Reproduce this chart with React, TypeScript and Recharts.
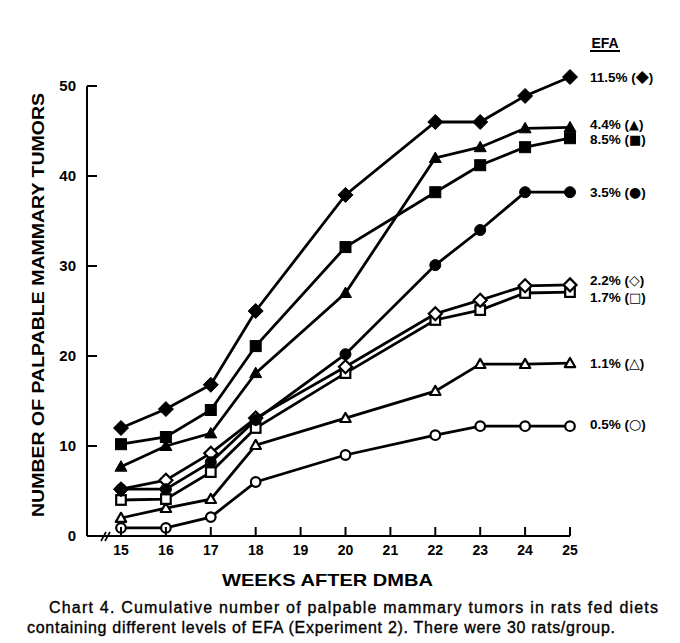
import React from 'react';
import { LineChart, Line, XAxis, YAxis, ReferenceLine, LabelList, Customized } from 'recharts';

const weeks = [15, 16, 17, 18, 20, 22, 23, 24, 25];
const efa115 = [12, 14.1, 16.8, 25, 37.9, 46, 46, 48.9, 51];
const efa44 = [7.7, 10, 11.4, 18.1, 27, 42, 43.2, 45.3, 45.4];
const efa85 = [10.2, 11, 14, 21.1, 32.1, 38.2, 41.2, 43.2, 44.2];
const efa35 = [5.2, 5.2, 8.2, 12.9, 20.2, 30.1, 34, 38.2, 38.2];
const efa22 = [5.2, 6.2, 9.2, 13.1, 18.8, 24.7, 26.2, 27.8, 27.9];
const efa17 = [4, 4.1, 7.1, 12, 18.1, 24, 25.1, 27, 27.1];
const efa11 = [2, 3.1, 4.1, 10.1, 13.1, 16.1, 19.1, 19.1, 19.2];
const efa05 = [0.9, 0.9, 2.1, 6, 9, 11.2, 12.2, 12.2, 12.2];

const xTicks = [15, 16, 17, 18, 19, 20, 21, 22, 23, 24, 25];
const yTicks = [0, 10, 20, 30, 40, 50];

const seriesDefs = [
  { key: 'e05', values: efa05, pct: '0.5%', sym: '\u25CB', shape: 'circle', filled: false, dy: -2, symSize: 14 },
  { key: 'e11', values: efa11, pct: '1.1%', sym: '\u25B3', shape: 'triangle', filled: false, dy: 0, symSize: 14 },
  { key: 'e17', values: efa17, pct: '1.7%', sym: '\u25A1', shape: 'square', filled: false, dy: 5, symSize: 13 },
  { key: 'e22', values: efa22, pct: '2.2%', sym: '\u25C7', shape: 'diamond', filled: false, dy: -5, symSize: 14 },
  { key: 'e35', values: efa35, pct: '3.5%', sym: '\u25CF', shape: 'circle', filled: true, dy: 0, symSize: 14 },
  { key: 'e85', values: efa85, pct: '8.5%', sym: '\u25A0', shape: 'square', filled: true, dy: 1, symSize: 13 },
  { key: 'e44', values: efa44, pct: '4.4%', sym: '\u25B2', shape: 'triangle', filled: true, dy: -3, symSize: 13 },
  { key: 'e115', values: efa115, pct: '11.5%', sym: '\u25C6', shape: 'diamond', filled: true, dy: 0, symSize: 17 },
];

const data = weeks.map((w, i) => {
  const row: any = { week: w };
  seriesDefs.forEach((s) => {
    row[s.key] = s.values[i];
    row[s.key + '_lbl'] = i === weeks.length - 1 ? s.pct + '|' + s.sym : null;
  });
  return row;
});

const FONT = '"Liberation Sans", Arial, "DejaVu Sans", sans-serif';

function makeDot(shape: string, filled: boolean) {
  return (props: any) => {
    const { cx, cy, index } = props;
    if (cx == null || cy == null) return <g key={`d-${index}`} />;
    const fill = filled ? '#000' : '#fff';
    const sw = filled ? 1 : 2.2;
    if (shape === 'circle') {
      return <circle key={`d-${index}`} cx={cx} cy={cy} r={filled ? 5.5 : 4.8} fill={fill} stroke="#000" strokeWidth={sw} />;
    }
    if (shape === 'square') {
      const h = filled ? 5.5 : 4.8;
      return <rect key={`d-${index}`} x={cx - h} y={cy - h} width={2 * h} height={2 * h} fill={fill} stroke="#000" strokeWidth={sw} />;
    }
    if (shape === 'triangle') {
      const h = filled ? 6 : 5.2;
      return (
        <polygon
          key={`d-${index}`}
          points={`${cx},${cy - h} ${cx + h},${cy + h * 0.75} ${cx - h},${cy + h * 0.75}`}
          fill={fill}
          stroke="#000"
          strokeWidth={sw}
          strokeLinejoin="round"
        />
      );
    }
    const h = filled ? 7.5 : 6.5;
    return (
      <polygon
        key={`d-${index}`}
        points={`${cx},${cy - h} ${cx + h},${cy} ${cx},${cy + h} ${cx - h},${cy}`}
        fill={fill}
        stroke="#000"
        strokeWidth={sw}
      />
    );
  };
}

function makeLabel(dy: number, symSize: number) {
  return (p: any) => {
    if (!p.value) return null;
    const x = p.viewBox?.x ?? p.x;
    const y = p.viewBox?.y ?? p.y;
    const [pct, sym] = String(p.value).split('|');
    return (
      <text x={x + 20} y={y + dy} dy="0.36em" fontFamily={FONT} fontWeight="bold" fontSize={13.5} fill="#000">
        {pct + ' ('}
        <tspan fontFamily='"DejaVu Sans", sans-serif' fontSize={symSize}>{sym}</tspan>
        {')'}
      </text>
    );
  };
}

const YTick = (props: any) => {
  const { x, y, payload } = props;
  return (
    <g>
      <line x1={x} y1={y} x2={x + 10} y2={y} stroke="#000" strokeWidth={2} />
      <text x={x - 11} y={y} dy="0.36em" textAnchor="end" fontFamily={FONT} fontWeight="bold" fontSize={15} fill="#000">
        {payload.value}
      </text>
    </g>
  );
};

const XTick = (props: any) => {
  const { x, y, payload } = props;
  return (
    <g>
      <line x1={x} y1={y} x2={x} y2={y - 9} stroke="#000" strokeWidth={2} />
      <text x={x} y={y + 14} dy="0.36em" textAnchor="middle" fontFamily={FONT} fontWeight="bold" fontSize={14} fill="#000">
        {payload.value}
      </text>
    </g>
  );
};

const Decor = () => (
  <g>
    <line x1={101} y1={541} x2={106} y2={532} stroke="#000" strokeWidth={1.6} />
    <line x1={105} y1={541} x2={110} y2={532} stroke="#000" strokeWidth={1.6} />
    <text x={605} y={43} dy="0.36em" textAnchor="middle" fontFamily={FONT} fontWeight="bold" fontSize={14} fill="#000">
      EFA
    </text>
    <line x1={590} y1={51} x2={620} y2={51} stroke="#000" strokeWidth={2} />
    <text
      transform="translate(38,305) rotate(-90)"
      x={0}
      y={0}
      dy="0.36em"
      textAnchor="middle"
      fontFamily={FONT}
      fontWeight="bold"
      fontSize={16}
      textLength={424}
      lengthAdjust="spacingAndGlyphs"
      fill="#000"
    >
      NUMBER OF PALPABLE MAMMARY TUMORS
    </text>
    <text x={222} y={580} dy="0.36em" fontFamily={FONT} fontWeight="bold" fontSize={17} textLength={211} lengthAdjust="spacingAndGlyphs" fill="#000">
      WEEKS AFTER DMBA
    </text>
    <text x={49} y={607} dy="0.36em" fontFamily={FONT} fontSize={16} textLength={609} lengthAdjust="spacing" fill="#000" stroke="#000" strokeWidth={0.35}>
      Chart 4. Cumulative number of palpable mammary tumors in rats fed diets
    </text>
    <text x={27} y={627} dy="0.36em" fontFamily={FONT} fontSize={16} textLength={588} lengthAdjust="spacing" fill="#000" stroke="#000" strokeWidth={0.35}>
      containing different levels of EFA (Experiment 2). There were 30 rats/group.
    </text>
  </g>
);

export default function App() {
  return (
    <div style={{ position: 'absolute', left: 0, top: 0, width: 680, height: 643, background: '#fff' }}>
      <LineChart width={680} height={643} data={data} margin={{ top: 68, right: 110, bottom: 77, left: 47 }}>
        <XAxis
          dataKey="week"
          type="number"
          domain={[14.243, 25]}
          ticks={xTicks}
          height={30}
          axisLine={{ stroke: '#000', strokeWidth: 2 }}
          tickLine={false}
          tickSize={0}
          tickMargin={0}
          tick={<XTick />}
          interval={0}
        />
        <YAxis
          type="number"
          domain={[0, 52]}
          ticks={yTicks}
          width={40}
          axisLine={false}
          tickLine={false}
          tickSize={0}
          tickMargin={0}
          tick={<YTick />}
          interval={0}
        />
        <ReferenceLine
          segment={[
            { x: 14.243, y: 0 },
            { x: 14.243, y: 50 },
          ]}
          stroke="#000"
          strokeWidth={2}
        />
        {seriesDefs.map((s) => (
          <Line
            key={s.key}
            dataKey={s.key}
            stroke="#000"
            strokeWidth={2.8}
            dot={makeDot(s.shape, s.filled)}
            activeDot={false}
            isAnimationActive={false}
          >
            <LabelList dataKey={s.key + '_lbl'} content={makeLabel(s.dy, s.symSize)} />
          </Line>
        ))}
        <Customized component={Decor} />
      </LineChart>
    </div>
  );
}
